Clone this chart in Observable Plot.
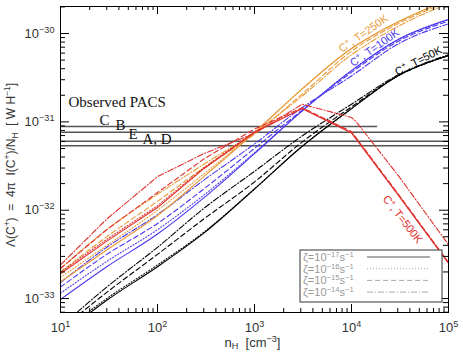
<!DOCTYPE html>
<html><head><meta charset="utf-8">
<script src="https://cdn.jsdelivr.net/npm/d3@7"></script>
<script src="https://cdn.jsdelivr.net/npm/@observablehq/plot@0.6"></script>
<style>body{margin:0;background:#fff} svg{display:block}</style>
</head><body><div id="chart"></div>
<script>
// density grid (cm^-3)
const nGrid = [10, 30, 100, 300, 1000, 3000, 1e4, 3e4, 1e5];
const nRed = [10, 30, 100, 300, 1000, 3100, 1e4, 3e4, 1e5];
const nRedDD = [10, 30, 100, 300, 1000, 3100, 1e4, 1.12e4, 3e4, 1e5];

// log10 Λ values, T = 50 K
const black17 = [-33.42,-33.02,-32.64,-32.26,-31.76,-31.29,-30.85,-30.48,-30.25];
const black16 = [-33.39,-33.00,-32.62,-32.25,-31.76,-31.29,-30.85,-30.48,-30.25];
const black15 = [-33.35,-32.93,-32.50,-32.10,-31.68,-31.24,-30.83,-30.48,-30.25];
const black14 = [-33.32,-32.87,-32.42,-31.98,-31.56,-31.17,-30.80,-30.47,-30.24];
// T = 100 K
const blue17 = [-33.01,-32.64,-32.27,-31.86,-31.36,-30.89,-30.42,-30.07,-29.84];
const blue16 = [-32.94,-32.58,-32.22,-31.83,-31.35,-30.89,-30.42,-30.07,-29.84];
const blue15 = [-32.87,-32.50,-32.15,-31.76,-31.30,-30.88,-30.44,-30.09,-29.86];
const blue14 = [-32.82,-32.42,-32.05,-31.66,-31.25,-30.85,-30.48,-30.12,-29.89];
// T = 250 K
const orange17 = [-32.81,-32.45,-32.06,-31.62,-31.12,-30.64,-30.17,-29.87,-29.62];
const orange16 = [-32.76,-32.40,-32.00,-31.59,-31.12,-30.64,-30.17,-29.87,-29.62];
const orange15 = [-32.70,-32.30,-31.90,-31.52,-31.14,-30.70,-30.20,-29.89,-29.64];
const orange14 = [-32.66,-32.22,-31.82,-31.48,-31.12,-30.72,-30.24,-29.92,-29.66];
// T = 500 K
const red17 = [-32.72,-32.35,-31.97,-31.53,-31.12,-30.85,-31.125,-31.82,-32.60];
const red16 = [-32.70,-32.33,-31.95,-31.52,-31.11,-30.85,-31.12,-31.82,-32.60];
const red15 = [-32.66,-32.22,-31.80,-31.42,-31.08,-30.84,-31.11,-31.81,-32.59];
const red14 = [-32.62,-32.10,-31.62,-31.36,-31.13,-30.80,-30.95,-31.00,-31.60,-32.39];

// observed PACS levels
const pacsLabels = ["C", "B", "E", "A, D"];
const pacsValues = [8.85e-32, 7.64e-32, 6.04e-32, 5.36e-32];
const pacsEnd = [1.86e4, 1e5, 1e5, 1e5];
const pacsLabelX = [25.3, 36.9, 50.2, 70.1];
const pacsTitle = "Observed PACS";

// curve labels
const curveLabels = ["C^{+}, T=250K", "C^{+}, T=100K", "C^{+}, T=50K", "C^{+}, T=500K"];
const curveLabelN = [13300, 17300, 49000, 33600];
const curveLabelL = [1.0e-30, 6.9e-31, 4.9e-31, 7.9e-33];
const curveLabelRot = [-35, -35, -27, 52];

const zetaLabels = ["ζ=10^{−17}s^{−1}", "ζ=10^{−16}s^{−1}", "ζ=10^{−15}s^{−1}", "ζ=10^{−14}s^{−1}"];
const yTitle = "Λ(C^{+})  =  4π  I(C^{+})/N_{H}  [ W H^{−1}]";
const xTitle = "n_{H}  [cm^{−3}]";

const xTickValues = [10, 100, 1e3, 1e4, 1e5];
const yTickValues = [1e-33, 1e-32, 1e-31, 1e-30];

const colors = {black: "#000000", blue: "#4a36ee", orange: "#e89a38", red: "#e0302c"};
const dashes = ["none", "1,2", "5,3", "6,2,1,2"];

const W = 463, H = 355, mL = 60, mR = 15, mT = 6, mB = 43;
const innerW = W - mL - mR, innerH = H - mT - mB;

const seriesDefs = [
  ["black", nGrid, [black17, black16, black15, black14]],
  ["blue", nGrid, [blue17, blue16, blue15, blue14]],
  ["orange", nGrid, [orange17, orange16, orange15, orange14]],
  ["red", nRed, [red17, red16, red15, red14]],
];

const lineMarks = [];
for (const [c, ns, arrs] of seriesDefs) {
  arrs.forEach((arr, k) => {
    const xs = (c === "red" && k === 3) ? nRedDD : ns;
    const data = arr.map((v, i) => ({n: xs[i], L: Math.pow(10, v)}));
    lineMarks.push(Plot.line(data, {x: "n", y: "L", stroke: colors[c], strokeWidth: 1.1,
      strokeDasharray: dashes[k], clip: true, curve: c === "red" ? "linear" : "monotone-x"}));
  });
}

const xMinor = [];
for (let e = 1; e < 5; e++) for (let m = 2; m < 10; m++) xMinor.push(m * Math.pow(10, e));
const yMinor = [];
for (let e = -34; e < -29; e++) for (let m = 2; m < 10; m++) {
  const v = m * Math.pow(10, e);
  if (v > Math.pow(10, -33.158) && v < Math.pow(10, -29.694)) yMinor.push(v);
}

const expFmt = d => `10^{${String(Math.round(Math.log10(d))).replace("-", "−")}}`;

const pacs = pacsLabels.map((l, i) => ({label: l, y: pacsValues[i], x2: pacsEnd[i], lx: pacsLabelX[i]}));
const cl = curveLabels.map((t, i) => ({t, n: curveLabelN[i], L: curveLabelL[i], r: curveLabelRot[i],
  c: [colors.orange, colors.blue, colors.black, colors.red][i]}));

const svg = Plot.plot({
  width: W, height: H,
  marginLeft: mL, marginRight: mR, marginTop: mT, marginBottom: mB,
  x: {type: "log", domain: [10, 1e5]},
  y: {type: "log", domain: [Math.pow(10, -33.158), Math.pow(10, -29.694)]},
  style: {fontFamily: "'Liberation Sans', Arial, sans-serif", fontSize: "13px", background: "#fff", color: "#222"},
  marks: [
    // PACS horizontal lines
    Plot.ruleY(pacs, {y: "y", x1: 10, x2: "x2", stroke: "#555", strokeWidth: 1.6, clip: true}),
    Plot.text(pacs, {x: "lx", y: "y", text: "label", textAnchor: "start", lineAnchor: "bottom", dy: -2,
      fontFamily: "'Liberation Serif', 'Times New Roman', serif", fontSize: 15, fill: "#111"}),
    Plot.text([pacsTitle], {x: 12.1, y: 1.49e-31, text: d => d, textAnchor: "start", lineAnchor: "bottom",
      fontFamily: "'Liberation Serif', 'Times New Roman', serif", fontSize: 15, fill: "#111"}),
    ...lineMarks,
    Plot.text(cl, {x: "n", y: "L", text: "t", rotate: "r", fill: "c", fontSize: 11}),
    // ticks (inside, mirrored)
    Plot.tickX(xTickValues, {x: d => d, insetTop: innerH - 8, stroke: "#000"}),
    Plot.tickX(xTickValues, {x: d => d, insetBottom: innerH - 8, stroke: "#000"}),
    Plot.tickX(xMinor, {x: d => d, insetTop: innerH - 4, stroke: "#000"}),
    Plot.tickX(xMinor, {x: d => d, insetBottom: innerH - 4, stroke: "#000"}),
    Plot.tickY(yTickValues, {y: d => d, insetRight: innerW - 9, stroke: "#000"}),
    Plot.tickY(yTickValues, {y: d => d, insetLeft: innerW - 9, stroke: "#000"}),
    Plot.tickY(yMinor, {y: d => d, insetRight: innerW - 5, stroke: "#000"}),
    Plot.tickY(yMinor, {y: d => d, insetLeft: innerW - 5, stroke: "#000"}),
    Plot.frame({stroke: "#000", strokeWidth: 1}),
    Plot.axisX({ticks: xTickValues, tickSize: 0, tickPadding: 10, tickFormat: expFmt, label: null, fill: "#333", fontSize: 13}),
    Plot.axisY({ticks: yTickValues, tickSize: 0, tickPadding: 6, tickFormat: expFmt, label: null, fill: "#333", fontSize: 13}),
    Plot.text([xTitle], {frameAnchor: "bottom", text: d => d, dy: 34, dx: -2, fontSize: 13, fill: "#333"})
  ]
});

const root = d3.select(svg);
// y-axis title: rotated group, centred text inside
const yTitleG = root.append("g").attr("class", "y-title")
  .attr("transform", `translate(15,${mT + innerH / 2 + 6}) rotate(-90)`);
yTitleG.append("text").attr("x", 0).attr("y", 0).attr("text-anchor", "middle")
  .attr("font-size", 12).attr("fill", "#333").text(yTitle);

// legend (drawn into the same svg)
const lg = root.append("g").attr("class", "legend");
lg.append("rect").attr("x", 300).attr("y", 250).attr("width", 142).attr("height", 52)
  .attr("fill", "#fff").attr("stroke", "#333").attr("stroke-width", 1);
zetaLabels.forEach((t, i) => {
  const cy = 257 + i * 11.7;
  lg.append("text").attr("x", 303).attr("y", cy + 4).attr("text-anchor", "start")
    .attr("fill", "#999").attr("font-size", 11).text(t);
  lg.append("line").attr("x1", 367).attr("x2", 430).attr("y1", cy).attr("y2", cy)
    .attr("stroke", "#aaa").attr("stroke-width", i === 0 ? 2 : 1)
    .attr("stroke-dasharray", dashes[i] === "none" ? null : dashes[i]);
});

// rich text: super/subscripts via relative dy shifts (em of parent font)
function rich(el) {
  const s = el.textContent;
  if (!/[\^_]\{/.test(s)) return;
  el.textContent = "";
  const re = /([\^_])\{([^}]*)\}/g;
  let last = 0, m;
  const parts = [];
  while ((m = re.exec(s))) {
    if (m.index > last) parts.push([s.slice(last, m.index), null]);
    parts.push([m[2], m[1]]);
    last = re.lastIndex;
  }
  if (last < s.length) parts.push([s.slice(last), null]);
  const small = 0.7;
  let cur = 0; // current baseline offset in parent em
  for (const [t, k] of parts) {
    const ts = document.createElementNS("http://www.w3.org/2000/svg", "tspan");
    ts.textContent = t;
    const target = k === "^" ? -0.38 : k === "_" ? 0.22 : 0;
    const scale = k ? small : 1;
    if (k) ts.setAttribute("font-size", `${small * 100}%`);
    const d = (target - cur) / scale;
    if (d !== 0) ts.setAttribute("dy", `${d.toFixed(3)}em`);
    cur = target;
    el.appendChild(ts);
  }
}
svg.querySelectorAll("text").forEach(rich);
document.getElementById("chart").appendChild(svg);
</script>
</body></html>
